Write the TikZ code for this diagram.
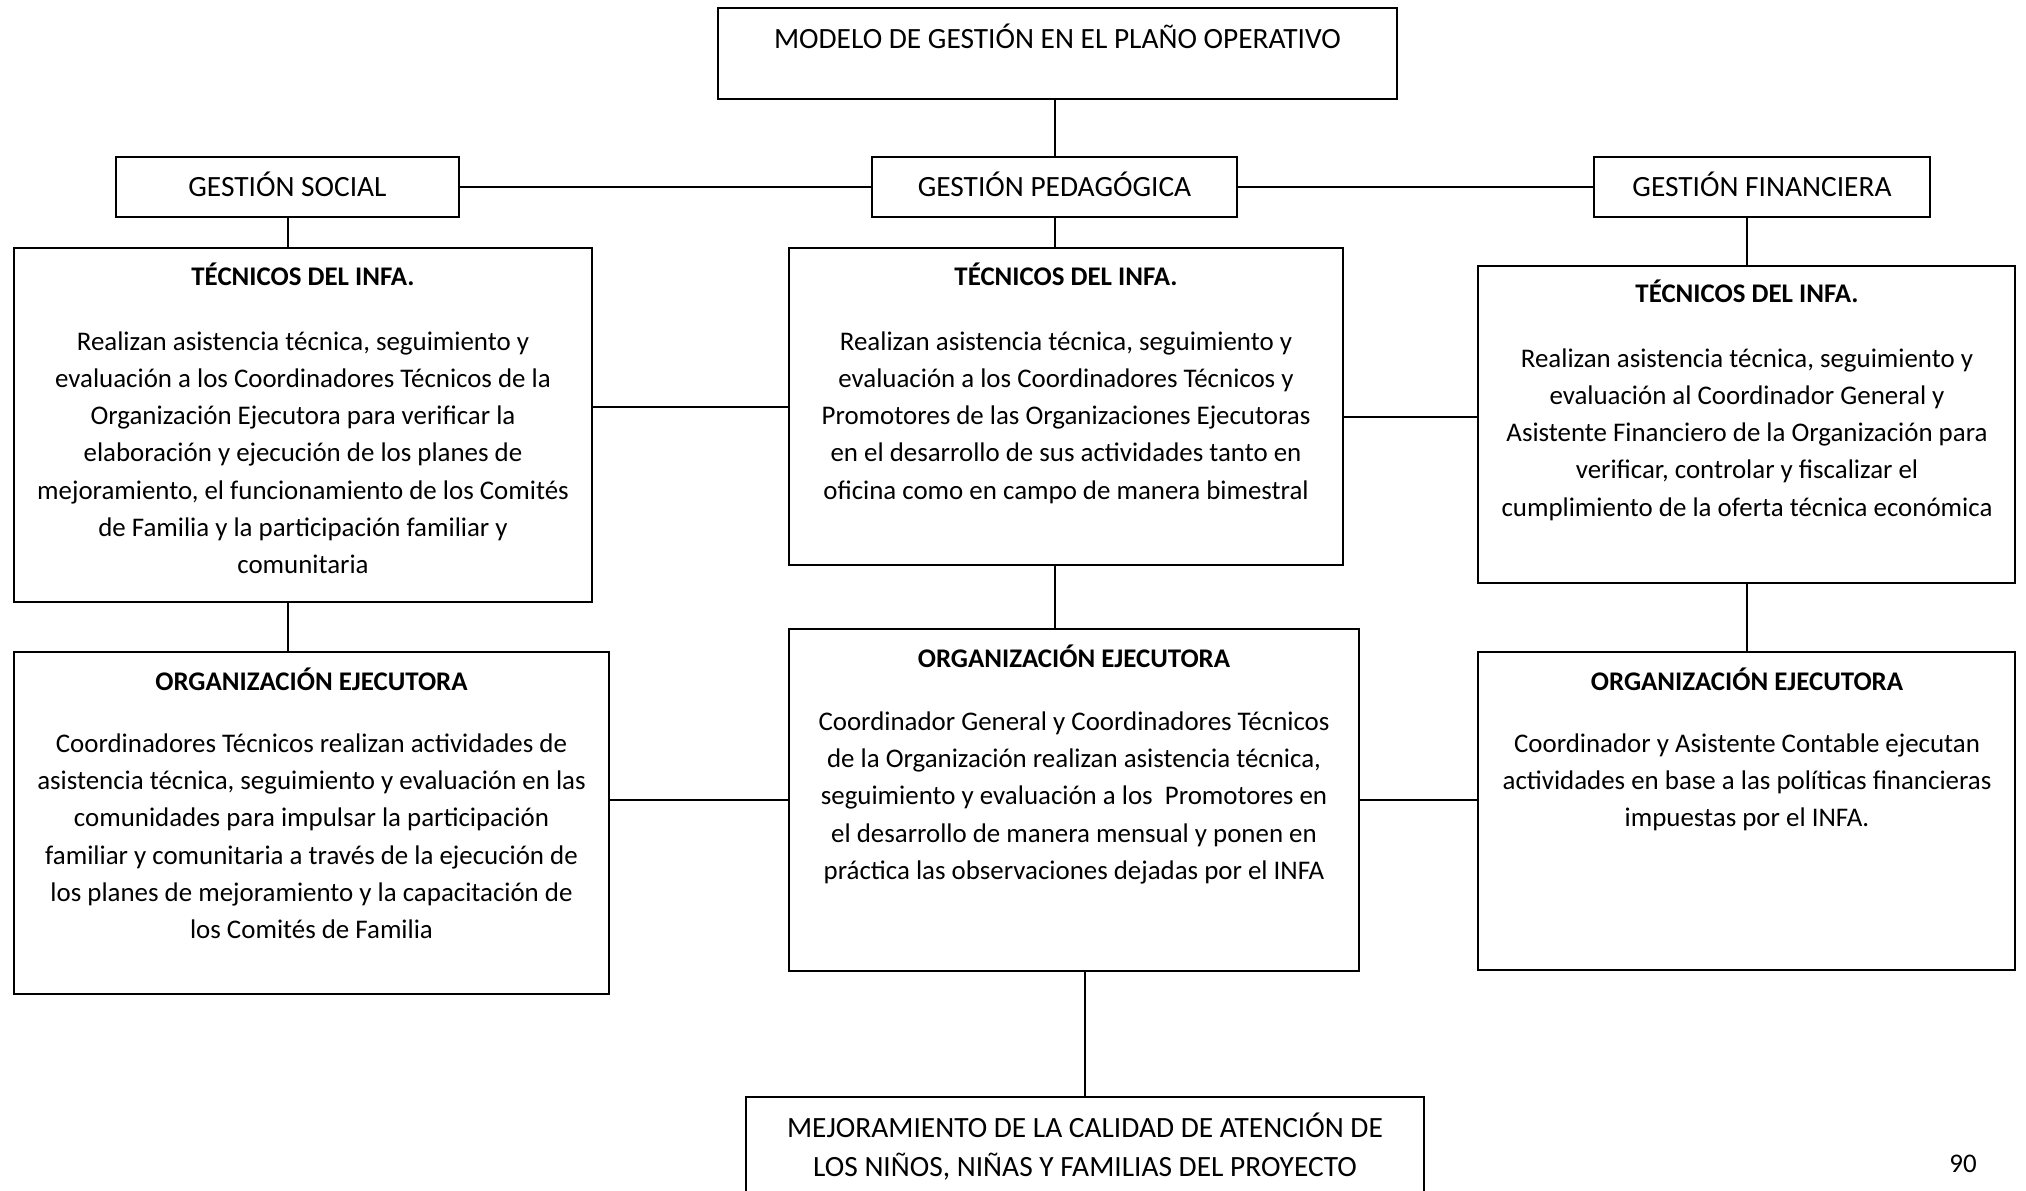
\documentclass[tikz,border=0pt]{standalone}
\usepackage{fontspec}
\setmainfont{Carlito}
\begin{document}
\begin{tikzpicture}[x=0.5pt,y=-0.5pt,
  box/.style={draw, line width=1.25pt, inner sep=0pt, anchor=center},
  conn/.style={line width=1pt},
  big/.style={anchor=base, inner sep=0pt, font=\fontsize{14.7}{18}\selectfont},
  txt/.style={anchor=base, inner sep=0pt, font=\fontsize{13.45}{16}\selectfont},
  ttl/.style={anchor=base, inner sep=0pt, font=\fontsize{13.45}{16}\selectfont\bfseries}]
\useasboundingbox[fill=white] (0,0) rectangle (2026,1190);

% boxes
\node[box, minimum width=339.5pt, minimum height=45.5pt] (top) at (1057.5,53.5) {};
\node[box, minimum width=171.5pt, minimum height=30pt] (soc) at (287.5,187) {};
\node[box, minimum width=182.5pt, minimum height=30pt] (ped) at (1054.5,187) {};
\node[box, minimum width=168pt, minimum height=30pt] (fin) at (1762,187) {};
\node[box, minimum width=289pt, minimum height=177pt] (tl) at (303,425) {};
\node[box, minimum width=277pt, minimum height=158.5pt] (tm) at (1066,406.5) {};
\node[box, minimum width=268.5pt, minimum height=158.5pt] (tr) at (1746.5,424.5) {};
\node[box, minimum width=297.5pt, minimum height=171pt] (ol) at (311.5,823) {};
\node[box, minimum width=285pt, minimum height=171pt] (om) at (1074,800) {};
\node[box, minimum width=268.5pt, minimum height=159pt] (or) at (1746.5,811) {};
\node[box, minimum width=339pt, minimum height=52pt] (bot) at (1085,1149) {};

% connectors
\draw[conn] (ped.north) -- (ped.north |- top.south);
\draw[conn] (soc.east) -- (ped.west);
\draw[conn] (ped.east) -- (fin.west);
\draw[conn] (soc.south) -- (soc.south |- tl.north);
\draw[conn] (ped.south) -- (ped.south |- tm.north);
\draw[conn] (tr.north) -- (tr.north |- fin.south);
\draw[conn] (tm.west -| tl.east) -- (tm.west);
\draw[conn] ([yshift=-5.25pt]tm.east) -- ([yshift=-5.25pt]tm.east -| tr.west);
\draw[conn] (soc.south |- tl.south) -- (soc.south |- ol.north);
\draw[conn] (ped.south |- tm.south) -- (ped.south |- om.north);
\draw[conn] (tr.south) -- (or.north);
\draw[conn] (om.west -| ol.east) -- (om.west);
\draw[conn] (om.east) -- (om.east -| or.west);
\draw[conn] (bot.north |- om.south) -- (bot.north);

% texts
\node[big] (ttop) at (1057.5,48) {MODELO DE GESTIÓN EN EL PLAÑO OPERATIVO};
\node[big] (tsoc) at (287.5,196) {GESTIÓN SOCIAL};
\node[big] (tped) at (1054.5,196) {GESTIÓN PEDAGÓGICA};
\node[big] (tfin) at (1762,196) {GESTIÓN FINANCIERA};

\node[ttl] (tlh) at (303,285.5) {TÉCNICOS DEL INFA.};
\foreach \t [count=\i] in {{Realizan asistencia técnica, seguimiento y},
  {evaluación a los Coordinadores Técnicos de la},
  {Organización Ejecutora para verificar la},
  {elaboración y ejecución de los planes de},
  {mejoramiento, el funcionamiento de los Comités},
  {de Familia y la participación familiar y},
  {comunitaria}}
  \node[txt] (tlb\i) at (303,{350+37.33*(\i-1)}) {\t};

\node[ttl] (tmh) at (1066,285.5) {TÉCNICOS DEL INFA.};
\foreach \t [count=\i] in {{Realizan asistencia técnica, seguimiento y},
  {evaluación a los Coordinadores Técnicos y},
  {Promotores de las Organizaciones Ejecutoras},
  {en el desarrollo de sus actividades tanto en},
  {oficina como en campo de manera bimestral}}
  \node[txt] (tmb\i) at (1066,{350+37.33*(\i-1)}) {\t};

\node[ttl] (trh) at (1747,302.5) {TÉCNICOS DEL INFA.};
\foreach \t [count=\i] in {{Realizan asistencia técnica, seguimiento y},
  {evaluación al Coordinador General y},
  {Asistente Financiero de la Organización para},
  {verificar, controlar y fiscalizar el},
  {cumplimiento de la oferta técnica económica}}
  \node[txt] (trb\i) at (1747,{367+37.33*(\i-1)}) {\t};

\node[ttl] (olh) at (311.5,690) {ORGANIZACIÓN EJECUTORA};
\foreach \t [count=\i] in {{Coordinadores Técnicos realizan actividades de},
  {asistencia técnica, seguimiento y evaluación en las},
  {comunidades para impulsar la participación},
  {familiar y comunitaria a través de la ejecución de},
  {los planes de mejoramiento y la capacitación de},
  {los Comités de Familia}}
  \node[txt] (olb\i) at (311.5,{752+37.33*(\i-1)}) {\t};

\node[ttl] (omh) at (1074,667) {ORGANIZACIÓN EJECUTORA};
\foreach \t [count=\i] in {{Coordinador General y Coordinadores Técnicos},
  {de la Organización realizan asistencia técnica,},
  {seguimiento y evaluación a los\ \ Promotores en},
  {el desarrollo de manera mensual y ponen en},
  {práctica las observaciones dejadas por el INFA}}
  \node[txt] (omb\i) at (1074,{730+37.33*(\i-1)}) {\t};

\node[ttl] (orh) at (1747,690) {ORGANIZACIÓN EJECUTORA};
\foreach \t [count=\i] in {{Coordinador y Asistente Contable ejecutan},
  {actividades en base a las políticas financieras},
  {impuestas por el INFA.}}
  \node[txt] (orb\i) at (1747,{752+37.33*(\i-1)}) {\t};

\node[big] (bot1) at (1085,1137) {MEJORAMIENTO DE LA CALIDAD DE ATENCIÓN DE};
\node[big] (bot2) at (1085,1176) {LOS NIÑOS, NIÑAS Y FAMILIAS DEL PROYECTO};

\node[txt] (pg) at (1963,1172) {90};
\end{tikzpicture}
\end{document}
